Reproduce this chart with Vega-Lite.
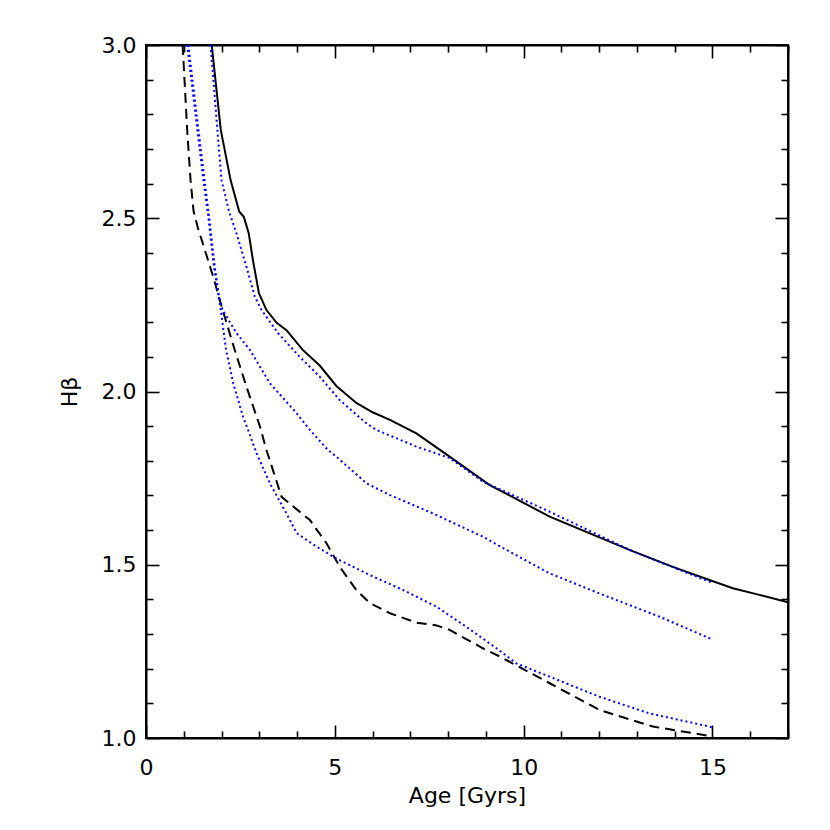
{
  "$schema": "https://vega.github.io/schema/vega-lite/v6.json",
  "width": 642,
  "height": 693,
  "autosize": "none",
  "padding": {"left": 146, "top": 45, "right": 42, "bottom": 92},
  "background": "white",
  "config": {
    "view": {"stroke": "black", "strokeWidth": 2},
    "axis": {
      "domainColor": "black",
      "domainWidth": 2,
      "tickColor": "black",
      "tickWidth": 1.6,
      "grid": false,
      "labelFont": "DejaVu Sans",
      "labelFontSize": 22,
      "labelColor": "black",
      "titleFont": "DejaVu Sans",
      "titleFontSize": 22,
      "titleFontWeight": "normal",
      "titleColor": "black",
      "labelFlush": false,
      "labelOverlap": false
    }
  },
  "data": {
    "values": [
      {"s": "solid", "x": 1.74, "y": 3.0},
      {"s": "solid", "x": 1.98, "y": 2.755},
      {"s": "solid", "x": 2.24, "y": 2.61},
      {"s": "solid", "x": 2.47, "y": 2.519},
      {"s": "solid", "x": 2.59, "y": 2.504},
      {"s": "solid", "x": 2.72, "y": 2.457},
      {"s": "solid", "x": 2.83, "y": 2.38},
      {"s": "solid", "x": 2.99, "y": 2.284},
      {"s": "solid", "x": 3.19, "y": 2.235},
      {"s": "solid", "x": 3.46, "y": 2.198},
      {"s": "solid", "x": 3.72, "y": 2.177},
      {"s": "solid", "x": 4.15, "y": 2.12},
      {"s": "solid", "x": 4.6, "y": 2.075},
      {"s": "solid", "x": 5.04, "y": 2.016},
      {"s": "solid", "x": 5.57, "y": 1.967},
      {"s": "solid", "x": 6.0, "y": 1.94},
      {"s": "solid", "x": 6.46, "y": 1.918},
      {"s": "solid", "x": 7.16, "y": 1.879},
      {"s": "solid", "x": 8.04, "y": 1.812},
      {"s": "solid", "x": 9.1, "y": 1.73},
      {"s": "solid", "x": 10.69, "y": 1.639},
      {"s": "solid", "x": 12.8, "y": 1.543},
      {"s": "solid", "x": 13.95, "y": 1.494},
      {"s": "solid", "x": 14.92, "y": 1.456},
      {"s": "solid", "x": 15.54, "y": 1.432},
      {"s": "solid", "x": 16.24, "y": 1.413},
      {"s": "solid", "x": 17.0, "y": 1.392},
      {"s": "dashed", "x": 0.97, "y": 3.0},
      {"s": "dashed", "x": 1.09, "y": 2.755},
      {"s": "dashed", "x": 1.18, "y": 2.61},
      {"s": "dashed", "x": 1.26, "y": 2.52},
      {"s": "dashed", "x": 1.38, "y": 2.47},
      {"s": "dashed", "x": 1.56, "y": 2.408},
      {"s": "dashed", "x": 1.78, "y": 2.331},
      {"s": "dashed", "x": 2.03, "y": 2.235},
      {"s": "dashed", "x": 2.35, "y": 2.12},
      {"s": "dashed", "x": 2.66, "y": 2.014},
      {"s": "dashed", "x": 2.84, "y": 1.956},
      {"s": "dashed", "x": 3.02, "y": 1.898},
      {"s": "dashed", "x": 3.19, "y": 1.831},
      {"s": "dashed", "x": 3.59, "y": 1.696},
      {"s": "dashed", "x": 3.9, "y": 1.668},
      {"s": "dashed", "x": 4.34, "y": 1.629},
      {"s": "dashed", "x": 4.78, "y": 1.562},
      {"s": "dashed", "x": 5.13, "y": 1.494},
      {"s": "dashed", "x": 5.57, "y": 1.427},
      {"s": "dashed", "x": 5.93, "y": 1.389},
      {"s": "dashed", "x": 6.46, "y": 1.36},
      {"s": "dashed", "x": 7.16, "y": 1.333},
      {"s": "dashed", "x": 7.69, "y": 1.325},
      {"s": "dashed", "x": 8.04, "y": 1.312},
      {"s": "dashed", "x": 8.92, "y": 1.259},
      {"s": "dashed", "x": 9.37, "y": 1.235},
      {"s": "dashed", "x": 10.69, "y": 1.158},
      {"s": "dashed", "x": 12.01, "y": 1.081},
      {"s": "dashed", "x": 13.42, "y": 1.033},
      {"s": "dashed", "x": 14.92, "y": 1.006},
      {"s": "dashed", "x": 15.0, "y": 1.0},
      {"s": "dotA", "x": 1.71, "y": 3.0},
      {"s": "dotA", "x": 1.89, "y": 2.755},
      {"s": "dotA", "x": 2.0, "y": 2.61},
      {"s": "dotA", "x": 2.2, "y": 2.519},
      {"s": "dotA", "x": 2.38, "y": 2.462},
      {"s": "dotA", "x": 2.66, "y": 2.36},
      {"s": "dotA", "x": 2.88, "y": 2.274},
      {"s": "dotA", "x": 3.06, "y": 2.235},
      {"s": "dotA", "x": 3.5, "y": 2.168},
      {"s": "dotA", "x": 4.07, "y": 2.1},
      {"s": "dotA", "x": 4.6, "y": 2.043},
      {"s": "dotA", "x": 5.13, "y": 1.975},
      {"s": "dotA", "x": 5.84, "y": 1.908},
      {"s": "dotA", "x": 6.1, "y": 1.889},
      {"s": "dotA", "x": 7.16, "y": 1.841},
      {"s": "dotA", "x": 8.04, "y": 1.808},
      {"s": "dotA", "x": 8.92, "y": 1.74},
      {"s": "dotA", "x": 10.69, "y": 1.653},
      {"s": "dotA", "x": 12.8, "y": 1.543},
      {"s": "dotA", "x": 14.92, "y": 1.451},
      {"s": "dotA", "x": 15.0, "y": 1.448},
      {"s": "dotB", "x": 1.09, "y": 3.0},
      {"s": "dotB", "x": 1.36, "y": 2.755},
      {"s": "dotB", "x": 1.52, "y": 2.61},
      {"s": "dotB", "x": 1.65, "y": 2.504},
      {"s": "dotB", "x": 1.69, "y": 2.466},
      {"s": "dotB", "x": 1.8, "y": 2.36},
      {"s": "dotB", "x": 1.93, "y": 2.27},
      {"s": "dotB", "x": 2.03, "y": 2.235},
      {"s": "dotB", "x": 2.4, "y": 2.168},
      {"s": "dotB", "x": 2.75, "y": 2.12},
      {"s": "dotB", "x": 3.28, "y": 2.024},
      {"s": "dotB", "x": 3.99, "y": 1.937},
      {"s": "dotB", "x": 4.34, "y": 1.889},
      {"s": "dotB", "x": 4.82, "y": 1.831},
      {"s": "dotB", "x": 5.04, "y": 1.812},
      {"s": "dotB", "x": 5.84, "y": 1.735},
      {"s": "dotB", "x": 6.46, "y": 1.701},
      {"s": "dotB", "x": 7.6, "y": 1.648},
      {"s": "dotB", "x": 8.92, "y": 1.581},
      {"s": "dotB", "x": 9.54, "y": 1.543},
      {"s": "dotB", "x": 10.69, "y": 1.475},
      {"s": "dotB", "x": 12.01, "y": 1.417},
      {"s": "dotB", "x": 13.6, "y": 1.35},
      {"s": "dotB", "x": 14.92, "y": 1.288},
      {"s": "dotB", "x": 15.0, "y": 1.285},
      {"s": "dotC", "x": 1.12, "y": 3.0},
      {"s": "dotC", "x": 1.39, "y": 2.755},
      {"s": "dotC", "x": 1.55, "y": 2.61},
      {"s": "dotC", "x": 1.67, "y": 2.504},
      {"s": "dotC", "x": 1.71, "y": 2.466},
      {"s": "dotC", "x": 1.82, "y": 2.36},
      {"s": "dotC", "x": 1.94, "y": 2.27},
      {"s": "dotC", "x": 1.98, "y": 2.235},
      {"s": "dotC", "x": 2.12, "y": 2.12},
      {"s": "dotC", "x": 2.31, "y": 2.024},
      {"s": "dotC", "x": 2.57, "y": 1.927},
      {"s": "dotC", "x": 2.75, "y": 1.875},
      {"s": "dotC", "x": 2.93, "y": 1.821},
      {"s": "dotC", "x": 3.28, "y": 1.735},
      {"s": "dotC", "x": 3.72, "y": 1.648},
      {"s": "dotC", "x": 3.99, "y": 1.591},
      {"s": "dotC", "x": 4.52, "y": 1.552},
      {"s": "dotC", "x": 5.04, "y": 1.518},
      {"s": "dotC", "x": 5.93, "y": 1.47},
      {"s": "dotC", "x": 6.81, "y": 1.427},
      {"s": "dotC", "x": 7.69, "y": 1.379},
      {"s": "dotC", "x": 8.48, "y": 1.321},
      {"s": "dotC", "x": 9.28, "y": 1.259},
      {"s": "dotC", "x": 9.81, "y": 1.215},
      {"s": "dotC", "x": 10.69, "y": 1.177},
      {"s": "dotC", "x": 12.01, "y": 1.119},
      {"s": "dotC", "x": 13.33, "y": 1.071},
      {"s": "dotC", "x": 14.92, "y": 1.033},
      {"s": "dotC", "x": 15.0, "y": 1.03}
    ]
  },
  "layer": [
    {
      "transform": [{"filter": "datum.s === 'solid'"}],
      "mark": {"type": "line", "color": "black", "strokeWidth": 2, "clip": true},
      "encoding": {
        "x": {
          "field": "x", "type": "quantitative",
          "scale": {"domain": [0, 17], "nice": false, "zero": false},
          "axis": {
            "orient": "bottom",
            "title": "Age [Gyrs]",
            "titlePadding": 1,
            "values": [0,1,2,3,4,5,6,7,8,9,10,11,12,13,14,15,16,17],
            "labelExpr": "datum.value % 5 === 0 ? datum.label : ''",
            "tickSize": {"condition": {"test": "datum.value % 5 === 0", "value": -13}, "value": -7},
            "labelPadding": 32
          }
        },
        "y": {
          "field": "y", "type": "quantitative",
          "scale": {"domain": [1, 3], "nice": false, "zero": false},
          "axis": {
            "orient": "left",
            "title": "Hβ",
            "titlePadding": 20,
            "values": [1.0,1.1,1.2,1.3,1.4,1.5,1.6,1.7,1.8,1.9,2.0,2.1,2.2,2.3,2.4,2.5,2.6,2.7,2.8,2.9,3.0],
            "format": ".1f",
            "labelExpr": "abs(datum.value*2 - round(datum.value*2)) < 0.001 ? datum.label : ''",
            "tickSize": {"condition": {"test": "abs(datum.value*2 - round(datum.value*2)) < 0.001", "value": -13}, "value": -7},
            "labelPadding": 23
          }
        }
      }
    },
    {
      "transform": [{"filter": "datum.s === 'dashed'"}],
      "mark": {"type": "line", "color": "black", "strokeWidth": 2, "strokeDash": [10, 6], "clip": true},
      "encoding": {
        "x": {
          "field": "x", "type": "quantitative",
          "scale": {"domain": [0, 17], "nice": false, "zero": false},
          "axis": {
            "orient": "top",
            "title": null,
            "labels": false,
            "values": [0,1,2,3,4,5,6,7,8,9,10,11,12,13,14,15,16,17],
            "tickSize": {"condition": {"test": "datum.value % 5 === 0", "value": -13}, "value": -7}
          }
        },
        "y": {
          "field": "y", "type": "quantitative",
          "scale": {"domain": [1, 3], "nice": false, "zero": false},
          "axis": {
            "orient": "right",
            "title": null,
            "labels": false,
            "values": [1.0,1.1,1.2,1.3,1.4,1.5,1.6,1.7,1.8,1.9,2.0,2.1,2.2,2.3,2.4,2.5,2.6,2.7,2.8,2.9,3.0],
            "tickSize": {"condition": {"test": "abs(datum.value*2 - round(datum.value*2)) < 0.001", "value": -13}, "value": -7}
          }
        }
      }
    },
    {
      "transform": [{"filter": "datum.s !== 'solid' && datum.s !== 'dashed'"}],
      "mark": {"type": "line", "color": "#0000ff", "strokeWidth": 2, "strokeDash": [2, 3], "clip": true},
      "encoding": {
        "x": {"field": "x", "type": "quantitative", "scale": {"domain": [0, 17], "nice": false, "zero": false}, "axis": null},
        "y": {"field": "y", "type": "quantitative", "scale": {"domain": [1, 3], "nice": false, "zero": false}, "axis": null},
        "detail": {"field": "s", "type": "nominal"}
      }
    }
  ],
  "resolve": {"axis": {"x": "independent", "y": "independent"}}
}
